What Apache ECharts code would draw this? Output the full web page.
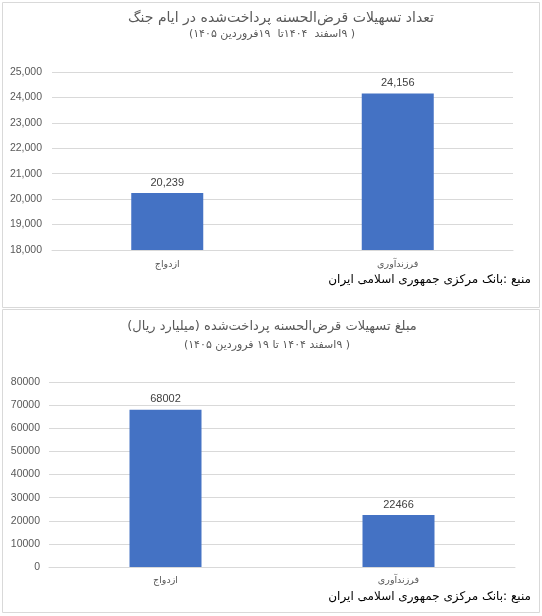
<!DOCTYPE html>
<html>
<head>
<meta charset="utf-8">
<script src="https://cdn.jsdelivr.net/npm/echarts@6/dist/echarts.min.js"></script>
<style>
  html, body { margin: 0; padding: 0; background: #fff; }
  #chart { width: 542px; height: 616px; }
</style>
</head>
<body>
<div id="chart"></div>
<script>
// Chart data
const categories = ['ازدواج', 'فرزندآوری'];
const loanCounts = [20239, 24156];
const loanAmounts = [68002, 22466];

// Subtitles are wrapped in an RTL embedding so they lay out right-to-left
const RLE = '\u202B', PDF = '\u202C';
const countTitle = 'تعداد تسهیلات قرض‌الحسنه پرداخت‌شده در ایام جنگ';
const countSubtitle = RLE + '( ۹اسفند  ۱۴۰۴تا  ۱۹فروردین ۱۴۰۵)' + PDF;
const amountTitle = 'مبلغ تسهیلات قرض‌الحسنه پرداخت‌شده (میلیارد ریال)\u200F';
const amountSubtitle = RLE + '( ۹اسفند ۱۴۰۴ تا ۱۹ فروردین ۱۴۰۵)' + PDF;
const sourceText = 'منبع :بانک مرکزی جمهوری اسلامی ایران';

const numFont = '"Liberation Sans", Arial, sans-serif';
const faFont = '"DejaVu Sans", sans-serif';
const barColor = '#4472C4';
const gridColor = '#d9d9d9';

const chart = echarts.init(document.getElementById('chart'));

// Helper for plain text in the graphic layer
const label = (text, x, y, size, color, align) => ({
    type: 'text',
    x: x,
    y: y,
    style: {
        text: text,
        fontFamily: faFont,
        fontSize: size,
        fill: color,
        align: align || 'center',
        verticalAlign: 'middle'
    }
});

const yAxisBase = {
    type: 'value',
    axisLine: { show: false },
    axisTick: { show: false },
    splitLine: { lineStyle: { color: gridColor, width: 1 } },
    axisLabel: { color: '#595959', fontFamily: numFont, fontSize: 10.5 }
};

const xAxisBase = {
    type: 'category',
    data: categories,
    axisLine: { lineStyle: { color: gridColor } },
    axisTick: { show: false },
    axisLabel: { color: '#595959', fontFamily: faFont, fontSize: 9.5 }
};

const barBase = {
    type: 'bar',
    barWidth: 72,
    itemStyle: { color: barColor },
    label: {
        show: true,
        position: 'top',
        distance: 5,
        color: '#404040',
        fontFamily: numFont,
        fontSize: 11
    }
};

chart.setOption({
    animation: false,
    grid: [
        { left: 52, right: 29, top: 72, height: 178 },
        { left: 49, right: 27, top: 382, height: 185 }
    ],
    xAxis: [
        Object.assign({}, xAxisBase, { gridIndex: 0, axisLabel: Object.assign({}, xAxisBase.axisLabel, { margin: 10 }) }),
        Object.assign({}, xAxisBase, { gridIndex: 1, axisLabel: Object.assign({}, xAxisBase.axisLabel, { margin: 9 }) })
    ],
    yAxis: [
        Object.assign({}, yAxisBase, {
            gridIndex: 0, min: 18000, max: 25000, interval: 1000,
            axisLabel: Object.assign({}, yAxisBase.axisLabel, {
                margin: 10,
                formatter: v => v.toLocaleString('en-US')
            })
        }),
        Object.assign({}, yAxisBase, {
            gridIndex: 1, min: 0, max: 80000, interval: 10000,
            axisLabel: Object.assign({}, yAxisBase.axisLabel, {
                margin: 9,
                formatter: v => String(v)
            })
        })
    ],
    series: [
        Object.assign({}, barBase, {
            xAxisIndex: 0, yAxisIndex: 0, data: loanCounts,
            label: Object.assign({}, barBase.label, { formatter: p => p.value.toLocaleString('en-US') })
        }),
        Object.assign({}, barBase, {
            xAxisIndex: 1, yAxisIndex: 1, data: loanAmounts,
            label: Object.assign({}, barBase.label, { formatter: p => String(p.value) })
        })
    ],
    graphic: [
        // Panel borders
        { type: 'rect', shape: { x: 2.5, y: 2.5, width: 537, height: 305 }, style: { fill: 'none', stroke: gridColor, lineWidth: 1 } },
        { type: 'rect', shape: { x: 2.5, y: 309.5, width: 537, height: 303 }, style: { fill: 'none', stroke: gridColor, lineWidth: 1 } },
        // Top chart texts
        label(countTitle, 281, 18, 14, '#595959'),
        label(countSubtitle, 272, 34, 11, '#595959'),
        label(sourceText, 531, 280, 12, '#000000', 'right'),
        // Bottom chart texts
        label(amountTitle, 272, 327, 13, '#595959'),
        label(amountSubtitle, 267, 345, 11, '#595959'),
        label(sourceText, 531, 597, 12, '#000000', 'right')
    ]
});
</script>
</body>
</html>
